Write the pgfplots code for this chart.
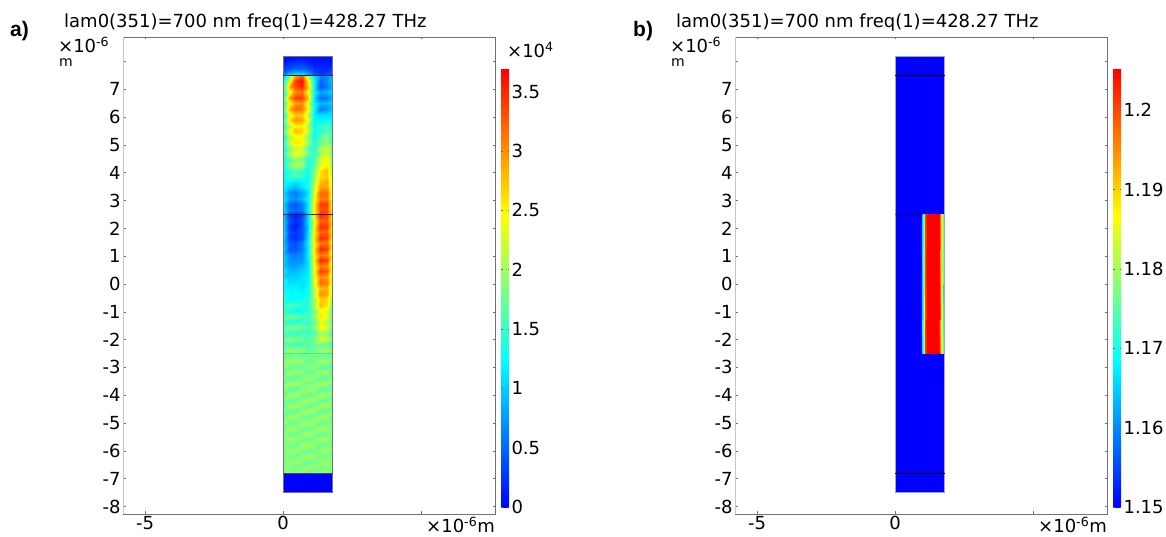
\documentclass[border=0pt]{standalone}
\usepackage{fontspec}
\setmainfont{DejaVu Sans}
\newfontfamily\panelfont{Liberation Sans}
\usepackage{pgfplots}
\pgfplotsset{compat=1.18}
\newcommand{\lab}{\fontsize{18}{19}\selectfont}
\pgfplotsset{
  colormap={comsol}{rgb255=(0,0,255) rgb255=(0,255,255) rgb255=(255,255,0) rgb255=(255,0,0)},
  colormap name=comsol,
  myaxis/.style={
    anchor=south west, scale only axis, width=372pt, height=477pt,
    xmin=-5.8, xmax=7.68, ymin=-8.27, ymax=8.88,
    enlargelimits=false, clip=true,
    axis line style={draw=black!55, line width=0.7pt},
    tick align=inside, major tick length=2.5pt,
    tick style={draw=black!55, line width=0.5pt},
    xtick={-5,0,5}, xticklabels={-5,0,{}},
    ytick={-8,-7,-6,-5,-4,-3,-2,-1,0,1,2,3,4,5,6,7,8},
    yticklabels={-8,-7,-6,-5,-4,-3,-2,-1,0,1,2,3,4,5,6,7,{}},
    tick label style={font=\lab},
    xticklabel style={yshift=1pt},
    yticklabel style={xshift=1pt},
    colorbar,
  },
  mybar/.style={
    at={(1+6/372,7/477)}, anchor=south west, scale only axis,
    width=8pt, height=438pt,
    axis line style={draw=none},
    tick align=inside, major tick length=1.5pt,
    tick style={draw=black!60, line width=0.4pt},
    ticklabel pos=right,
    yticklabel style={font=\lab, xshift=-1pt},
  },
}
\begin{document}
\begin{tikzpicture}
\path[use as bounding box] (0pt,0pt) rectangle (1166pt,537pt);

\begin{axis}[myaxis, at={(123pt,23pt)},
  point meta min=0, point meta max=3.69,
  colorbar style={mybar, ytick={0,0.5,1,1.5,2,2.5,3,3.5}, yticklabels={0,0.5,1,1.5,2,2.5,3,3.5}},
]
% upper cladding
\addplot[surf, shader=interp, mesh/cols=9, point meta=explicit]
 table[row sep=\\, header=false, x expr={mod(\coordindex,9)*0.225}, y expr={8.17-floor(\coordindex/9+0.01)*0.2233}, meta index=0] {
.05\\.05\\.05\\.08\\.08\\.05\\.05\\.05\\.05\\
.12\\.2\\.25\\.25\\.2\\.1\\.12\\.12\\.1\\
.3\\.4\\.5\\.5\\.4\\.25\\.2\\.2\\.3\\
.6\\1.0\\1.2\\1.2\\.8\\.4\\.3\\.4\\.5\\
};
% field in the guiding section
\addplot[surf, shader=interp, mesh/cols=9, point meta=explicit]
 table[row sep=\\, header=false, x expr={mod(\coordindex,9)*0.225}, y expr={7.5-floor(\coordindex/9+0.01)*0.2014}, meta index=0] {
1.0\\1.6\\2.8\\3.2\\2.0\\1.0\\0.7\\0.7\\1.0\\
1.2\\2.3\\3.4\\3.65\\2.5\\1.2\\0.5\\0.7\\1.0\\
1.4\\2.8\\3.3\\3.5\\2.8\\1.2\\0.4\\0.6\\0.9\\
1.2\\2.3\\3.0\\3.1\\2.4\\1.2\\0.8\\0.9\\1.1\\
1.5\\2.9\\3.4\\3.4\\2.8\\1.1\\0.5\\0.6\\0.9\\
1.2\\2.4\\2.9\\3.0\\2.3\\1.2\\0.9\\0.9\\1.1\\
1.5\\2.8\\3.2\\3.1\\2.5\\1.2\\0.6\\0.7\\1.0\\
1.2\\2.3\\2.7\\2.7\\2.1\\1.2\\1.1\\1.1\\1.1\\
1.5\\2.6\\3.0\\2.9\\2.4\\1.2\\1.2\\1.2\\1.2\\
1.2\\2.1\\2.5\\2.5\\2.0\\1.3\\1.5\\1.6\\1.3\\
1.5\\2.4\\2.8\\2.7\\2.2\\1.3\\1.4\\1.6\\1.4\\
1.2\\2.0\\2.4\\2.4\\1.8\\1.3\\1.7\\1.9\\1.4\\
1.4\\2.2\\2.6\\2.5\\2.0\\1.4\\1.7\\1.9\\1.5\\
1.2\\1.8\\2.2\\2.2\\1.6\\1.4\\2.0\\2.3\\1.5\\
1.4\\2.0\\2.4\\2.3\\1.7\\1.5\\2.0\\2.3\\1.6\\
1.2\\1.6\\1.9\\1.8\\1.4\\1.5\\2.2\\2.5\\1.7\\
1.3\\1.8\\2.1\\2.0\\1.4\\1.7\\2.3\\2.5\\1.8\\
1.2\\1.4\\1.6\\1.5\\1.3\\1.8\\2.6\\2.8\\1.8\\
1.3\\1.5\\1.6\\1.5\\1.3\\1.9\\2.6\\2.7\\2.0\\
1.2\\1.2\\1.1\\1.2\\1.3\\2.0\\2.8\\2.9\\1.9\\
1.2\\1.0\\0.9\\1.1\\1.3\\2.2\\2.9\\2.9\\2.1\\
1.1\\0.7\\0.6\\0.8\\1.1\\2.3\\3.2\\3.2\\2.1\\
1.2\\0.8\\0.7\\0.9\\1.3\\2.4\\3.1\\3.1\\2.2\\
1.1\\0.5\\0.4\\0.6\\1.1\\2.5\\3.4\\3.4\\2.2\\
1.1\\0.6\\0.5\\0.6\\1.2\\2.5\\3.3\\3.3\\2.3\\
1.1\\0.3\\0.15\\0.3\\1.0\\2.5\\3.5\\3.4\\2.4\\
1.1\\0.4\\0.2\\0.4\\1.1\\2.4\\3.2\\3.2\\2.5\\
1.1\\0.3\\0.1\\0.4\\1.0\\2.5\\3.5\\3.4\\2.3\\
1.1\\0.4\\0.25\\0.4\\1.1\\2.5\\3.2\\3.2\\2.4\\
1.1\\0.3\\0.2\\0.4\\1.1\\2.6\\3.5\\3.4\\2.3\\
1.0\\0.5\\0.4\\0.6\\1.2\\2.5\\3.1\\3.1\\2.3\\
1.1\\0.4\\0.4\\0.6\\1.1\\2.6\\3.5\\3.4\\2.2\\
1.0\\0.7\\0.6\\0.7\\1.2\\2.5\\3.1\\3.0\\2.3\\
1.1\\0.7\\0.7\\0.7\\1.1\\2.5\\3.5\\3.4\\2.1\\
1.0\\0.8\\0.8\\0.9\\1.1\\2.4\\3.1\\3.0\\2.2\\
1.2\\0.9\\0.9\\1.0\\1.1\\2.4\\3.4\\3.3\\2.1\\
1.1\\1.0\\1.0\\1.1\\1.2\\2.3\\3.0\\2.9\\2.1\\
1.3\\1.1\\1.1\\1.1\\1.2\\2.3\\3.2\\3.1\\2.0\\
1.2\\1.2\\1.2\\1.1\\1.3\\2.1\\2.8\\2.8\\2.0\\
1.4\\1.2\\1.3\\1.2\\1.3\\2.1\\3.0\\2.9\\1.9\\
1.4\\1.2\\1.2\\1.3\\1.4\\2.0\\2.7\\2.6\\1.8\\
1.5\\1.6\\1.6\\1.4\\1.4\\2.0\\2.8\\2.6\\1.7\\
1.5\\1.3\\1.2\\1.3\\1.5\\1.8\\2.4\\2.3\\1.5\\
1.6\\1.8\\1.8\\1.6\\1.5\\1.9\\2.6\\2.4\\1.7\\
1.5\\1.4\\1.3\\1.5\\1.5\\1.7\\2.3\\2.1\\1.5\\
1.7\\1.8\\1.9\\1.7\\1.6\\1.8\\2.5\\2.3\\1.7\\
1.6\\1.5\\1.4\\1.6\\1.5\\1.6\\2.0\\1.9\\1.4\\
1.7\\1.9\\1.9\\1.7\\1.7\\1.8\\2.3\\2.2\\1.8\\
1.6\\1.6\\1.5\\1.6\\1.6\\1.7\\1.8\\1.7\\1.5\\
1.8\\2.0\\1.9\\1.9\\1.7\\1.8\\1.9\\2.0\\1.9\\
1.7\\1.7\\1.8\\1.7\\1.8\\1.8\\1.7\\1.7\\1.7\\
1.8\\2.0\\2.0\\1.9\\1.7\\1.8\\2.0\\2.0\\1.8\\
1.9\\1.7\\1.7\\1.8\\1.9\\1.9\\1.7\\1.6\\1.8\\
1.7\\2.0\\2.0\\1.8\\1.7\\1.8\\2.05\\2.0\\1.7\\
1.9\\1.7\\1.65\\1.85\\2.0\\1.85\\1.65\\1.7\\1.9\\
1.7\\2.0\\2.05\\1.85\\1.75\\1.85\\2.05\\2.0\\1.7\\
1.9\\1.75\\1.65\\1.9\\2.0\\1.9\\1.65\\1.7\\1.85\\
1.65\\2.0\\2.05\\1.8\\1.7\\1.85\\2.05\\2.0\\1.7\\
1.9\\1.7\\1.7\\1.9\\2.05\\1.9\\1.7\\1.7\\1.9\\
1.65\\2.0\\2.05\\1.85\\1.7\\1.8\\2.05\\2.0\\1.65\\
1.9\\1.75\\1.65\\1.9\\2.05\\1.9\\1.65\\1.75\\1.9\\
1.65\\2.0\\2.05\\1.8\\1.7\\1.8\\2.05\\2.0\\1.65\\
1.9\\1.75\\1.7\\1.95\\2.05\\1.95\\1.7\\1.75\\1.9\\
1.7\\2.0\\2.0\\1.8\\1.7\\1.8\\2.0\\2.0\\1.7\\
1.9\\1.8\\1.7\\1.9\\2.05\\1.9\\1.7\\1.8\\1.9\\
1.7\\2.0\\2.0\\1.8\\1.7\\1.8\\2.0\\2.0\\1.7\\
1.85\\1.8\\1.7\\1.95\\2.05\\1.95\\1.7\\1.8\\1.85\\
1.75\\2.0\\2.0\\1.8\\1.65\\1.8\\2.0\\2.0\\1.75\\
1.85\\1.8\\1.75\\1.95\\2.05\\1.95\\1.75\\1.8\\1.85\\
1.8\\1.95\\1.95\\1.8\\1.65\\1.8\\1.95\\1.95\\1.8\\
1.85\\1.85\\1.8\\1.9\\2.0\\1.9\\1.8\\1.85\\1.85\\
1.85\\1.9\\1.9\\1.85\\1.75\\1.85\\1.9\\1.9\\1.85\\
};
% lower cladding
\addplot[surf, shader=interp, mesh/cols=2, point meta=explicit]
 table[row sep=\\, header=false, x index=0, y index=1, meta index=2] {
0 -6.8 0\\1.8 -6.8 0\\0 -7.5 0\\1.8 -7.5 0\\
};
\addplot[black!55, line width=0.6pt] coordinates {(0,8.17) (1.8,8.17) (1.8,-7.5) (0,-7.5) (0,8.17)};
\addplot[black!85, line width=0.4pt] coordinates {(0,7.5) (1.8,7.5)};
\addplot[black!85, line width=0.4pt] coordinates {(0,2.5) (1.8,2.5)};
\addplot[black!70, line width=0.4pt] coordinates {(0,-6.8) (1.8,-6.8)};
\addplot[green!50!black, opacity=0.2, line width=0.2pt] coordinates {(0,-2.5) (1.8,-2.5)};
\draw[white!78!black, line width=1pt] (rel axis cs:0,0) -- (rel axis cs:0,1);
\end{axis}

\begin{axis}[myaxis, at={(735pt,23pt)},
  point meta min=1.15, point meta max=1.2052,
  colorbar style={mybar, ytick={1.15,1.16,1.17,1.18,1.19,1.2}, yticklabels={1.15,1.16,1.17,1.18,1.19,1.2}},
]
\addplot[surf, shader=interp, mesh/cols=2, point meta=explicit]
 table[row sep=\\, header=false, x index=0, y index=1, meta index=2] {
0 8.17 1.15\\1.8 8.17 1.15\\0 -7.5 1.15\\1.8 -7.5 1.15\\
};
\addplot[surf, shader=interp, mesh/cols=8, point meta=explicit]
 table[row sep=\\, header=false, x index=0, y index=1, meta index=2] {
0.98 2.5 1.165\\1.04 2.5 1.18\\1.1 2.5 1.2\\1.15 2.5 1.2052\\1.6 2.5 1.2052\\1.66 2.5 1.19\\1.72 2.5 1.175\\1.79 2.5 1.155\\
0.98 -2.5 1.165\\1.04 -2.5 1.18\\1.1 -2.5 1.2\\1.15 -2.5 1.2052\\1.6 -2.5 1.2052\\1.66 -2.5 1.19\\1.72 -2.5 1.175\\1.79 -2.5 1.155\\
};
\addplot[black!35, line width=0.6pt] coordinates {(0,8.17) (1.8,8.17) (1.8,-7.5) (0,-7.5) (0,8.17)};
\addplot[black, line width=0.5pt] coordinates {(0,7.5) (1.8,7.5)};
\addplot[black, opacity=0.5, line width=0.4pt] coordinates {(0,2.5) (1,2.5)};
\addplot[black, line width=0.5pt] coordinates {(0,-6.8) (1.8,-6.8)};
\draw[white!78!black, line width=1pt] (rel axis cs:0,0) -- (rel axis cs:0,1);
\end{axis}

% texts
\node[anchor=base west, font=\lab, inner sep=0pt] at (64pt,509pt) {lam0(351)=700 nm freq(1)=428.27 THz};
\node[anchor=base west, font=\lab, inner sep=0pt] at (676pt,509pt) {lam0(351)=700 nm freq(1)=428.27 THz};
\node[anchor=base west, font=\panelfont\bfseries\fontsize{21}{22}\selectfont, inner sep=0pt] at (10pt,500pt) {a)};
\node[anchor=base west, font=\panelfont\bfseries\fontsize{21}{22}\selectfont, inner sep=0pt] at (633pt,500pt) {b)};
\node[anchor=base west, font=\lab, inner sep=0pt] at (58pt,484pt) {×10\textsuperscript{-6}};
\node[anchor=base west, font=\fontsize{14}{15}\selectfont, inner sep=0pt] at (59pt,470pt) {m};
\node[anchor=base west, font=\lab, inner sep=0pt] at (670pt,484pt) {×10\textsuperscript{-6}};
\node[anchor=base west, font=\fontsize{14}{15}\selectfont, inner sep=0pt] at (671pt,470pt) {m};
\node[anchor=base east, font=\lab, inner sep=0pt] at (495pt,4pt) {×10\textsuperscript{-6}m};
\node[anchor=base east, font=\lab, inner sep=0pt] at (1107pt,4pt) {×10\textsuperscript{-6}m};
\node[anchor=base west, font=\lab, inner sep=0pt] at (507pt,479pt) {×10\textsuperscript{4}};
\end{tikzpicture}
\end{document}
